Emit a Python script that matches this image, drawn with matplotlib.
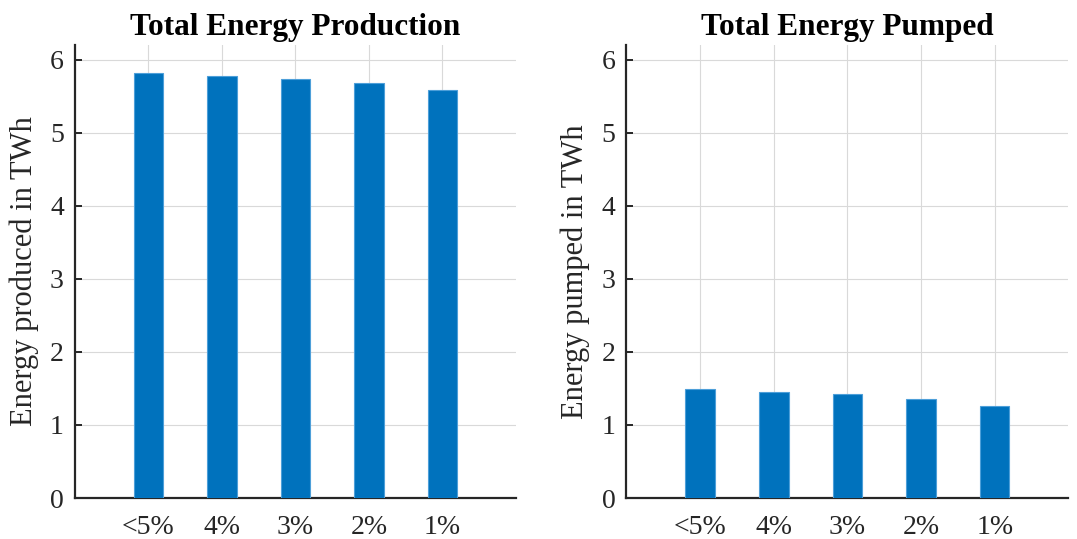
import matplotlib
matplotlib.use("Agg")
import matplotlib.pyplot as plt
import numpy as np

categories = ["<5%", "4%", "3%", "2%", "1%"]
energy_produced = [5.82, 5.78, 5.74, 5.68, 5.58]
energy_pumped = [1.49, 1.455, 1.42, 1.36, 1.26]

plt.rcParams["font.family"] = ["Liberation Serif", "DejaVu Serif"]

bar_color = "#0072BD"
axis_color = "#262626"

fig = plt.figure(figsize=(10.77, 5.39), dpi=100)
ax1 = fig.add_axes([0.0696, 0.076, 0.4094, 0.8405])
ax2 = fig.add_axes([0.5817, 0.076, 0.4103, 0.8405])

panels = [
    (ax1, energy_produced, "Total Energy Production", "Energy produced in TWh"),
    (ax2, energy_pumped, "Total Energy Pumped", "Energy pumped in TWh"),
]

x = np.arange(1, len(categories) + 1)
for ax, values, title, ylabel in panels:
    ax.bar(x, values, width=0.4, color=bar_color, edgecolor="#4d9fd9",
           linewidth=0.8, zorder=3)
    ax.set_xlim(0, 6)
    ax.set_ylim(0, 6.2)
    ax.set_xticks(x)
    ax.set_xticklabels(categories)
    ax.set_yticks(range(0, 7))
    ax.grid(True, color="#d9d9d9", linewidth=0.8, zorder=0)
    ax.set_axisbelow(True)
    for side in ("top", "right"):
        ax.spines[side].set_visible(False)
    for side in ("left", "bottom"):
        ax.spines[side].set_color(axis_color)
        ax.spines[side].set_linewidth(1.6)
    ax.tick_params(direction="in", length=5, width=1.4, colors=axis_color,
                   labelsize=20, pad=8)
    ax.tick_params(axis="x", pad=12)
    ax.set_title(title, fontsize=22.5, fontweight="bold", pad=7)
    ax.set_ylabel(ylabel, fontsize=22, color=axis_color, labelpad=8)

fig.savefig("out.png", dpi=100)
